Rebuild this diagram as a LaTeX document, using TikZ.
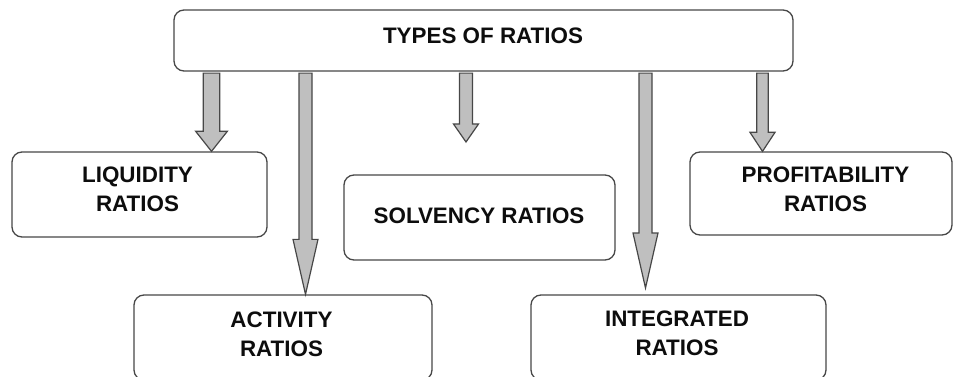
\documentclass[tikz,border=0pt]{standalone}
\usepackage{fontspec}
\setmainfont{Liberation Sans}
\usetikzlibrary{calc}
\tikzset{
  box/.style={draw=black!72, line width=1.3pt, rounded corners=10pt, fill=white, inner sep=0pt},
  lbl/.style={font=\bfseries\fontsize{22.4}{29}\selectfont, align=center, inner sep=0pt, text=black!95},
  fat/.style={draw=black!72, line width=1.2pt, fill=black!25, line join=miter}
}
\newcommand\fatarrow[5]{%
  \draw[fat] let \p1=(#1), \p2=(#2) in
    (\x1-#3pt,\y1) -- (\x1+#3pt,\y1) -- (\x1+#3pt,\y2+#5pt) -- (\x1+#4pt,\y2+#5pt)
    -- (\x1,\y2) -- (\x1-#4pt,\y2+#5pt) -- (\x1-#3pt,\y2+#5pt) -- cycle;}
\begin{document}
\begin{tikzpicture}[x=1pt,y=-1pt]
\useasboundingbox (0,0) rectangle (953,377);
% boxes
\node[box, minimum width=619pt, minimum height=61pt] (top) at (483.5,40.5) {};
\node[box, minimum width=255pt, minimum height=85pt] (liq) at (139.5,194.5) {};
\node[box, minimum width=298pt, minimum height=85pt] (act) at (283,337.5) {};
\node[box, minimum width=271pt, minimum height=85pt] (sol) at (479.5,217.5) {};
\node[box, minimum width=262pt, minimum height=83pt] (prof) at (821,193.5) {};
\node[box, minimum width=295pt, minimum height=85pt] (int) at (678.5,337.5) {};
% texts
\node[lbl] (topt) at (483,35.5) {TYPES OF RATIOS};
\node[lbl] (liqt) at (137.5,189.5) {LIQUIDITY\\RATIOS};
\node[lbl] (actt) at (281.5,334) {ACTIVITY\\RATIOS};
\node[lbl] (solt) at (479,215.5) {SOLVENCY RATIOS};
\node[lbl] (proft) at (825.5,189.5) {PROFITABILITY\\RATIOS};
\node[lbl] (intt) at (677,333) {INTEGRATED\\RATIOS};
% arrow columns and free ends
\coordinate (c1) at (211.5,0);
\coordinate (c2) at (305.5,0);
\coordinate (c5) at (762.5,0);
\coordinate (e3) at (466,142);
\coordinate (e4) at (645.5,288);
% arrows
\fatarrow{$(top.south -| c1)+(0,1.5)$}{liq.north -| c1}{8.3}{15.8}{20}
\fatarrow{$(top.south -| c2)+(0,1.5)$}{act.north -| c2}{6.5}{12.5}{55}
\fatarrow{$(top.south -| e3)+(0,1.5)$}{e3}{6.5}{12.5}{18}
\fatarrow{$(top.south -| e4)+(0,1.5)$}{e4}{6.5}{12.5}{55}
\fatarrow{$(top.south -| c5)+(0,1.5)$}{prof.north -| c5}{5.8}{12.5}{19}
\end{tikzpicture}
\end{document}
